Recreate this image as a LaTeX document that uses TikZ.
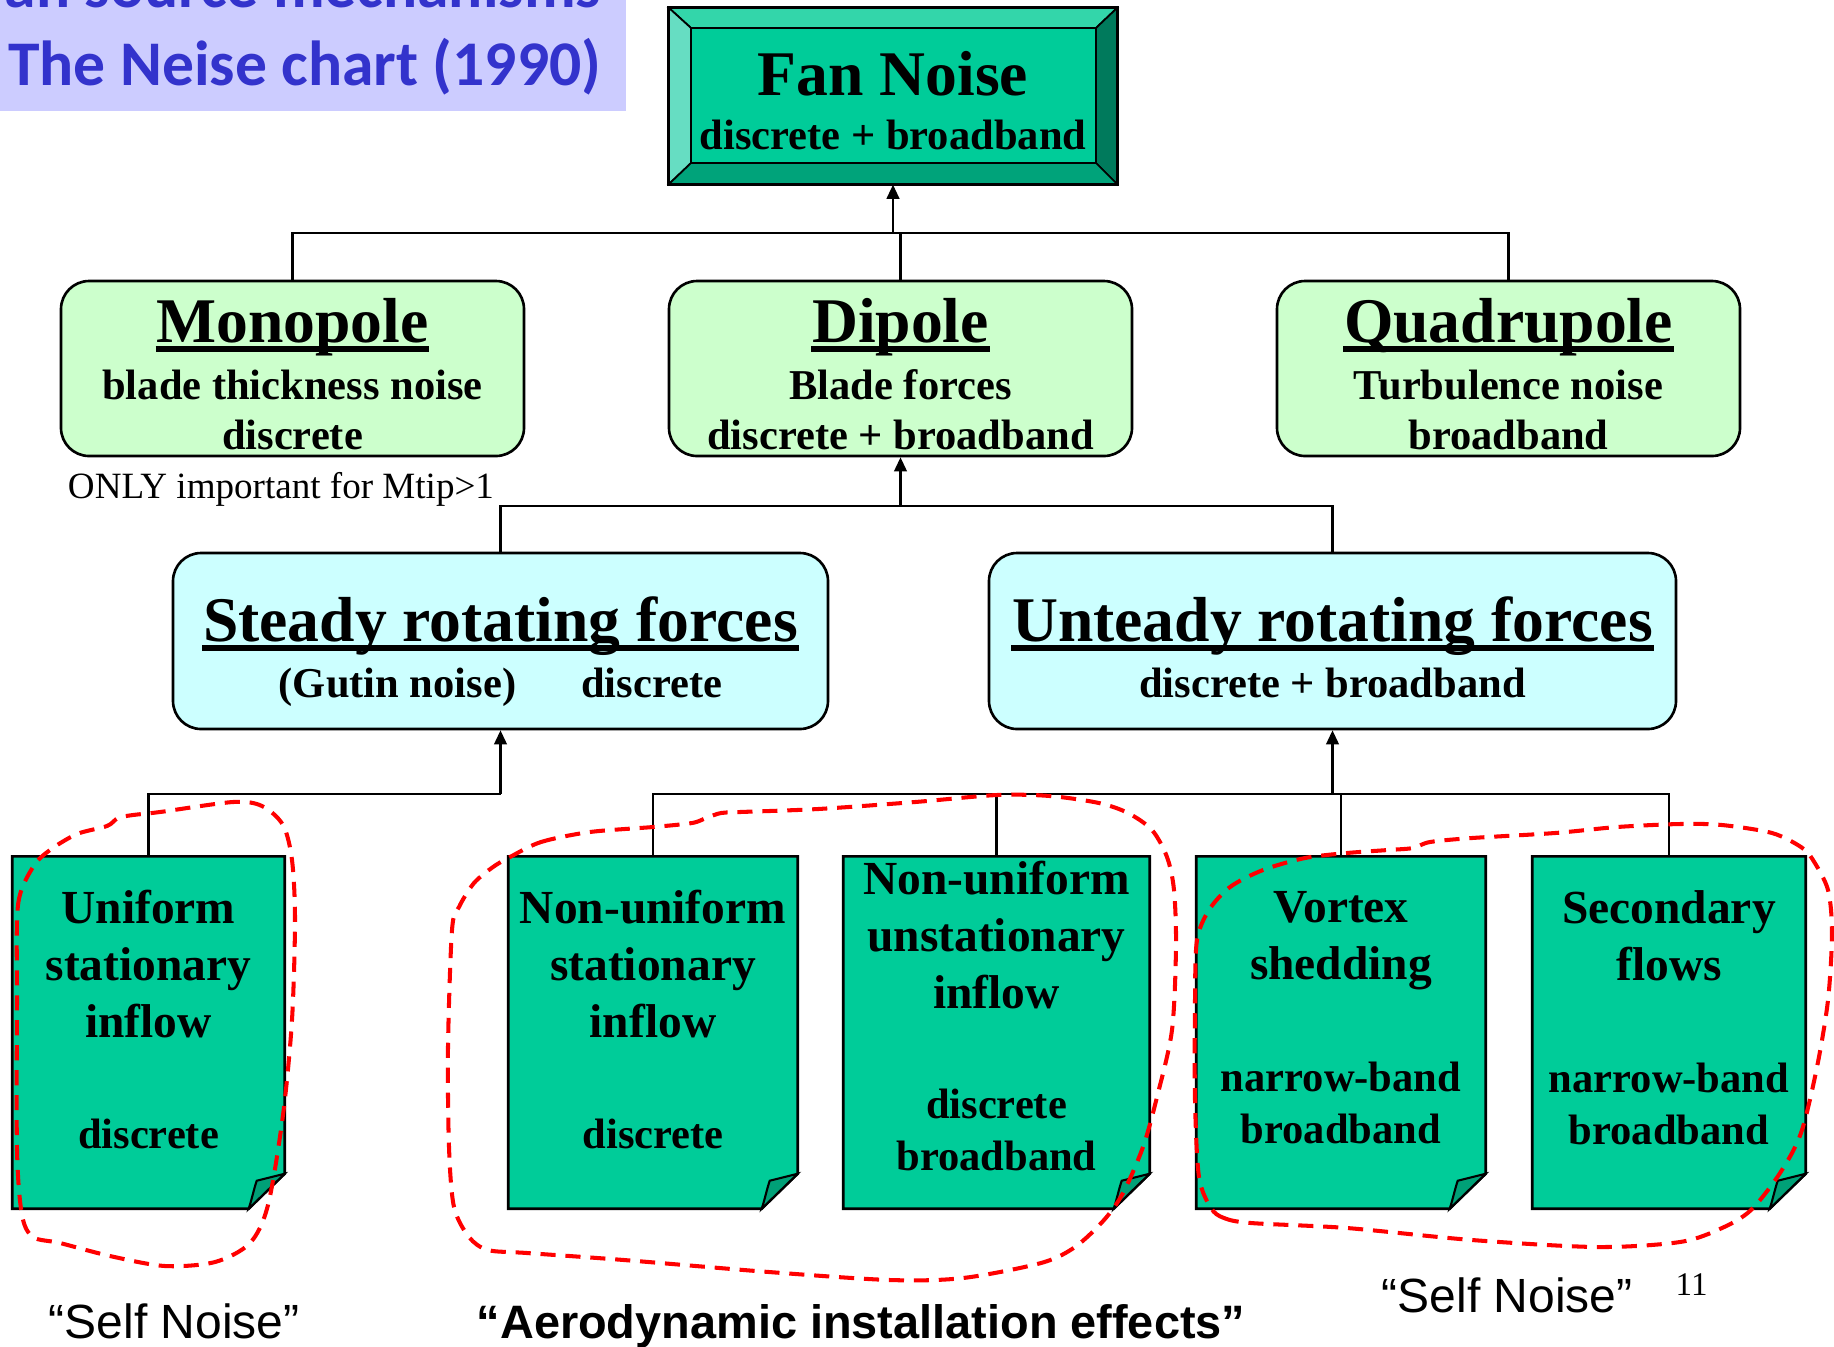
\documentclass[tikz,border=0pt]{standalone}
\usepackage{fontspec}
\setmainfont{Liberation Serif}
\newfontfamily\arialfont{Liberation Sans}
\newfontfamily\calfont{Carlito}
\usetikzlibrary{fit,calc,arrows.meta}

\definecolor{titlebg}{HTML}{CCCCFF}
\definecolor{titleink}{HTML}{3333CC}
\definecolor{fanmain}{HTML}{00CC99}
\definecolor{bevtop}{HTML}{33D6AA}
\definecolor{bevleft}{HTML}{66DDC2}
\definecolor{bevright}{HTML}{007A5C}
\definecolor{bevbot}{HTML}{00A37A}
\definecolor{polegreen}{HTML}{CCFFCC}
\definecolor{forcecyan}{HTML}{CCFFFF}
\definecolor{docgreen}{HTML}{00CC99}
\definecolor{foldgreen}{HTML}{00A077}
\definecolor{loopred}{HTML}{FF0000}

\tikzset{
  pole/.style={draw, line width=0.75pt, fill=polegreen, rounded corners=8pt, inner sep=0pt},
  force/.style={draw, line width=0.75pt, fill=forcecyan, rounded corners=8pt, inner sep=0pt},
  frame/.style={draw=none, inner sep=0pt},
  conn/.style={line width=0.6pt},
  arr/.style={conn, -{Triangle[width=3.6pt,length=4pt]}},
  bigtitle/.style={font=\fontsize{18.1}{21}\selectfont\bfseries, inner sep=0pt, anchor=base},
  subtxt/.style={font=\fontsize{12.1}{14.2}\selectfont\bfseries, inner sep=0pt, anchor=base, align=center},
  doctxt/.style={font=\fontsize{13.5}{16.2}\selectfont\bfseries, inner sep=0pt, anchor=base, align=center},
  docbot/.style={font=\fontsize{12.1}{14.8}\selectfont\bfseries, inner sep=0pt, anchor=base, align=center},
  underbar/.style={line width=1.6pt},
  loop/.style={draw=loopred, line width=1.15pt, dash pattern=on 4.3pt off 2.8pt},
  docbody/.style={fill=docgreen, draw, line width=0.75pt, line join=miter},
  docfold/.style={fill=foldgreen, draw, line width=0.6pt},
  note/.style={inner sep=0pt, anchor=base},
}

% page with a folded lower right corner, drawn around a frame node
\newcommand\docpage[1]{%
  \path[docbody] (#1.north west) -- (#1.north east) -- ($(#1.south east)+(0,-35)$)
     -- ($(#1.south east)+(-36,0)$) -- (#1.south west) -- cycle;
  \path[docfold] ($(#1.south east)+(-36,0)$) .. controls ($(#1.south east)+(-33,-9)$)
     and ($(#1.south east)+(-31,-19)$) .. ($(#1.south east)+(-28,-28)$)
     -- ($(#1.south east)+(0,-35)$) -- cycle;
}

% bold title with a heavy rule under it
\newcommand\ultitle[3]{%
  \node[bigtitle] (#1) at #2 {#3};
  \draw[underbar] ([yshift=-2pt]#1.base west) -- ([yshift=-2pt]#1.base east);
}

\begin{document}
\begin{tikzpicture}[x=0.1mm,y=-0.1mm]
\useasboundingbox (0,0) rectangle (1834,1346);
\clip (0,0) rectangle (1834,1346);

% heading block
\node[frame, fill=titlebg, fit={(0,0)(626,111)}] (head) {};
\node[note, anchor=base east, text=titleink, font=\calfont\bfseries\fontsize{18.1}{21}\selectfont] (head1) at (602,7) {Fan source mechanisms};
\node[note, anchor=base east, text=titleink, font=\calfont\bfseries\fontsize{18.1}{21}\selectfont] (head2) at (602,85) {The Neise chart (1990)};

% top box with bevelled frame
\node[frame, fit={(669,8)(1117,184)}] (fan) {};
\draw[line width=0.5pt, fill=bevtop] (669,8) -- (1117,8) -- (1096,28) -- (691,28) -- cycle;
\draw[line width=0.5pt, fill=bevleft] (669,8) -- (691,28) -- (691,163) -- (669,184) -- cycle;
\draw[line width=0.5pt, fill=bevright] (1117,8) -- (1117,184) -- (1096,163) -- (1096,28) -- cycle;
\draw[line width=0.5pt, fill=bevbot] (669,184) -- (1117,184) -- (1096,163) -- (691,163) -- cycle;
\draw[line width=0.5pt, fill=fanmain] (691,28) rectangle (1096,163);
\draw[line width=0.8pt] (fan.north west) rectangle (fan.south east);
\node[bigtitle] (fant) at (893,95) {Fan Noise};
\node[subtxt] (fans) at (893,149) {discrete + broadband};

% source types
\node[pole, fit={(61,281)(524,456)}] (mono) {};
\node[pole, fit={(669,281)(1132,456)}] (dip) {};
\node[pole, fit={(1277,281)(1740,456)}] (quad) {};
\ultitle{monot}{(292.5,342)}{Monopole}
\node[subtxt] (monos) at (292.5,449) {blade thickness noise\\discrete};
\ultitle{dipt}{(900.5,342)}{Dipole}
\node[subtxt] (dips) at (900.5,449) {Blade forces\\discrete + broadband};
\ultitle{quadt}{(1508.5,342)}{Quadrupole}
\node[subtxt] (quads) at (1508.5,449) {Turbulence noise\\broadband};
\node[note, font=\fontsize{10.55}{12}\selectfont] (only) at (281,498) {ONLY important for Mtip>1};

% rotating forces
\node[force, fit={(173,553)(828,729)}] (steady) {};
\node[force, fit={(989,553)(1676,729)}] (unsteady) {};
\ultitle{steadyt}{(500.5,641)}{Steady rotating forces}
\node[subtxt] (steadys) at (500.5,697) {(Gutin noise)\hspace{18.5pt}discrete};
\ultitle{unsteadyt}{(1332.5,641)}{Unteady rotating forces}
\node[subtxt] (unsteadys) at (1332.5,697) {discrete + broadband};

% inflow mechanisms
\node[frame, fit={(13,857)(284,1208)}] (d1) {};
\node[frame, fit={(509,857)(797,1208)}] (d2) {};
\node[frame, fit={(844,857)(1149,1208)}] (d3) {};
\node[frame, fit={(1197,857)(1485,1208)}] (d4) {};
\node[frame, fit={(1533,857)(1805,1208)}] (d5) {};
\docpage{d1}
\docpage{d2}
\docpage{d3}
\docpage{d4}
\docpage{d5}
% multi-line labels are placed by the baseline of their last line
\node[doctxt] (d1a) at (148.5,1037) {Uniform\\stationary\\inflow};
\node[docbot] (d1b) at (148.5,1148) {discrete};
\node[doctxt] (d2a) at (653,1037) {Non-uniform\\stationary\\inflow};
\node[docbot] (d2b) at (653,1148) {discrete};
\node[doctxt] (d3a) at (996.5,1008) {Non-uniform\\unstationary\\inflow};
\node[docbot] (d3b) at (996.5,1170) {discrete\\broadband};
\node[doctxt] (d4a) at (1341,979) {Vortex\\shedding};
\node[docbot] (d4b) at (1341,1143) {narrow-band\\broadband};
\node[doctxt] (d5a) at (1669,980) {Secondary\\flows};
\node[docbot] (d5b) at (1669,1144) {narrow-band\\broadband};

% connectors
\coordinate (j1) at (893,233);
\draw[conn] (mono.north) -- (mono.north |- j1) -- (quad.north |- j1) -- (quad.north);
\draw[conn] (dip.north) -- (dip.north |- j1);
\draw[arr] (j1) -- (fan.south);

\coordinate (j2) at ($(dip.south)+(0,49)$);
\draw[conn] (steady.north) -- (steady.north |- j2) -- (unsteady.north |- j2) -- (unsteady.north);
\draw[arr] (j2) -- (dip.south);

\coordinate (j3) at ($(steady.south)+(0,64)$);
\draw[conn] (d1.north) |- (j3);
\draw[arr] (j3) -- (steady.south);

\coordinate (j4) at ($(unsteady.south)+(0,64)$);
\draw[conn] (d2.north) -- (d2.north |- j4) -- (d5.north |- j4) -- (d5.north);
\draw[conn] (d3.north) -- (d3.north |- j4);
\draw[conn] (d4.north) -- (d4.north |- j4);
\draw[arr] (j4) -- (unsteady.south);

% dashed groupings
\draw[loop] plot[smooth cycle] coordinates {(17,1000) (18,905) (33,867) (50,850) (77,834) (107,826) (118,818) (133,815) (160,812) (233,802) (262,806) (283,825) (292,860) (295,920) (292,1020) (283,1115) (268,1205) (250,1243) (215,1262) (165,1266) (110,1256) (60,1243) (33,1237) (22,1215) (17,1150)};
\draw[loop] plot[smooth cycle] coordinates {(510,857) (541,842) (590,832) (653,827) (692,823) (706,818) (721,813) (740,812) (818,809) (915,802) (997,795) (1050,796) (1099,803) (1128,813) (1152,830) (1167,857) (1174,890) (1176,947) (1172,1030) (1157,1097) (1143,1147) (1123,1193) (1104,1220) (1075,1247) (1041,1263) (963,1278) (890,1280) (769,1272) (624,1260) (527,1253) (488,1250) (469,1237) (454,1207) (449,1147) (448,1047) (452,930) (459,907) (474,883) (493,867)};
\draw[loop] plot[smooth cycle] coordinates {(1211,1208) (1224,1218) (1251,1223) (1347,1228) (1472,1240) (1597,1247) (1680,1242) (1722,1228) (1751,1210) (1780,1173) (1801,1133) (1817,1067) (1828,1000) (1832,933) (1828,890) (1813,860) (1801,847) (1772,833) (1722,825) (1680,824) (1617,827) (1555,833) (1472,838) (1430,842) (1413,848) (1388,850) (1347,853) (1305,858) (1263,870) (1230,887) (1209,910) (1197,940) (1195,1000) (1195,1100) (1199,1177)};

% captions
\node[note, anchor=base west, font=\arialfont\fontsize{13.66}{16}\selectfont] (selfl) at (48,1338) {“Self Noise”};
\node[note, anchor=base west, font=\arialfont\bfseries\fontsize{13.34}{16}\selectfont] (aero) at (476,1338) {“Aerodynamic installation effects”};
\node[note, anchor=base west, font=\arialfont\fontsize{13.66}{16}\selectfont] (selfr) at (1381,1312) {“Self Noise”};
\node[note, anchor=base west, font=\fontsize{9.4}{11}\selectfont] (pagenum) at (1675,1295) {11};
\end{tikzpicture}
\end{document}
